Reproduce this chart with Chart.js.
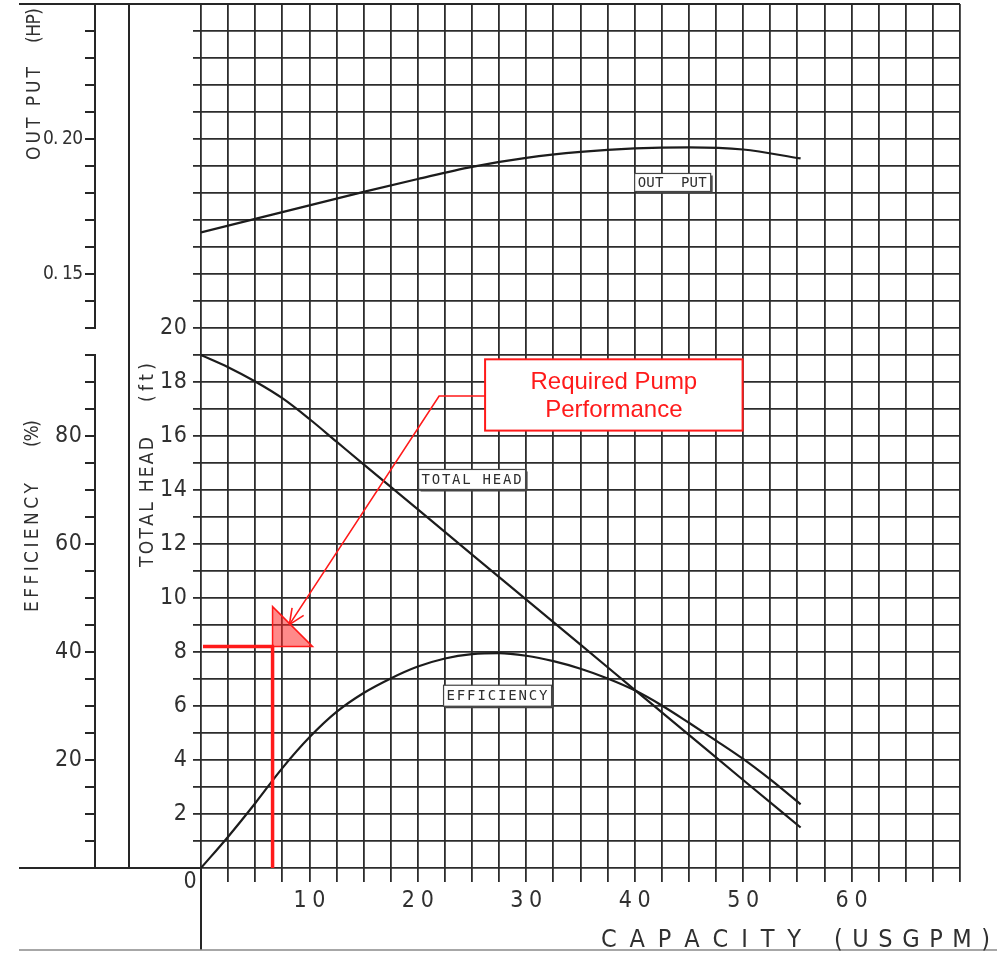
<!DOCTYPE html>
<html lang="en">
<head>
<meta charset="utf-8">
<title>Pump performance curve</title>
<script src="https://cdn.jsdelivr.net/npm/chart.js@4.4.1/dist/chart.umd.min.js"></script>
<style>
  html, body { margin: 0; padding: 0; background: #fff; }
  canvas { display: block; }
</style>
</head>
<body>
<canvas id="pumpChart" width="997" height="962"></canvas>
<script>
// ---- Performance data (capacity in US gallons per minute) ----
const headCapacity = [0, 2.5, 5, 7.5, 10, 12.5, 15, 20, 25, 30, 35, 40, 45, 50, 55.3];
const totalHeadFt  = [19.0, 18.55, 18.02, 17.4, 16.63, 15.79, 14.95, 13.28, 11.61, 9.94, 8.27, 6.6, 4.93, 3.26, 1.5];

const effCapacity   = [0, 2.5, 5, 7.5, 10, 12.5, 15, 17.5, 20, 22.5, 25, 27.5, 30, 32.5, 35, 37.5, 40, 42.5, 45, 47.5, 50, 52.5, 55.3];
const efficiencyPct = [0, 5.8, 12.0, 18.5, 24.2, 28.9, 32.4, 35.1, 37.3, 38.8, 39.6, 39.8, 39.3, 38.3, 36.9, 35.1, 32.9, 30.1, 26.9, 23.6, 20.2, 16.4, 11.8];

const outputCapacity = [0, 5, 10, 15, 20, 25, 30, 35, 40, 45, 50, 55.3];
const outputHp       = [0.1654, 0.1704, 0.1754, 0.1804, 0.1852, 0.1897, 0.1930, 0.1952, 0.1965, 0.1969, 0.1961, 0.1928];

// ---- Axis tick labels ----
const capacityTicks   = [10, 20, 30, 40, 50, 60];
const headTicks       = [2, 4, 6, 8, 10, 12, 14, 16, 18, 20];
const efficiencyTicks = [20, 40, 60, 80];
const outputTicks     = [0.15, 0.20];
const outputTickText  = ['0. 15', '0. 20'];

// Operating point required of the pump
const requiredCapacity = [6.6];
const requiredHead     = [8.2];

// ---- Scale extents ----
const CAP_MAX = 70, CAP_GRID = 2.5;
const HEAD_MAX = 32;                 // grid continues above the labelled head range
const EFF_AXIS = [0, 95], EFF_STEP = 5;
const HP_AXIS = [0.13, 0.25], HP_STEP = 0.01;

const INK = '#262626';
const RED = '#ff1a1a';
const NUM_FONT = '"Liberation Sans Narrow", "DejaVu Sans Condensed", "Liberation Sans", sans-serif';
const TAG_FONT = '"DejaVu Sans Mono", "Liberation Mono", monospace';

function stepValues(from, to, step) {
  const out = [];
  for (let i = 0; from + i * step <= to + 1e-9; i++) out.push(+(from + i * step).toFixed(4));
  return out;
}

// draw text so that it spans exactly `len` pixels, anchored left / right / center
function spanText(ctx, text, x, y, len, align) {
  const chars = [...text];
  const w = chars.map(ch => ctx.measureText(ch).width);
  const sum = w.reduce((a, b) => a + b, 0);
  const spacing = chars.length > 1 ? (len - sum) / (chars.length - 1) : 0;
  const total = chars.length > 1 ? len : sum;
  let px = align === 'right' ? x - total : align === 'center' ? x - total / 2 : x;
  ctx.textAlign = 'left';
  chars.forEach((ch, i) => { ctx.fillText(ch, px, y); px += w[i] + spacing; });
}

function line(ctx, x1, y1, x2, y2) {
  ctx.beginPath(); ctx.moveTo(x1, y1); ctx.lineTo(x2, y2); ctx.stroke();
}

// Frame, auxiliary axes, labels and the duty-point annotation
const pumpDecor = {
  id: 'pumpDecor',
  afterDatasetsDraw(chart) {
    const { ctx, chartArea: a } = chart;
    const { x, y, eff, hp } = chart.scales;
    const frameLeft = 19, auxAxisX = 95, innerRuleX = 129, bottomRuleY = 950;

    ctx.save();
    ctx.strokeStyle = INK;
    ctx.lineWidth = 2;
    ctx.lineCap = 'butt';

    // outer rules
    line(ctx, frameLeft, a.top, a.right, a.top);
    line(ctx, frameLeft, y.getPixelForValue(0), a.left, y.getPixelForValue(0));
    line(ctx, x.getPixelForValue(0), a.bottom, x.getPixelForValue(0), bottomRuleY);
    line(ctx, innerRuleX, a.top, innerRuleX, a.bottom);
    ctx.save();
    ctx.strokeStyle = '#8a8a8a'; ctx.lineWidth = 1.5;
    line(ctx, frameLeft, bottomRuleY, chart.width, bottomRuleY);
    ctx.restore();

    // output (HP) axis
    const hpTop = hp.getPixelForValue(HP_AXIS[1]), hpBot = hp.getPixelForValue(HP_AXIS[0]);
    line(ctx, auxAxisX, hpTop, auxAxisX, hpBot + 1);
    stepValues(HP_AXIS[0], HP_AXIS[1] - HP_STEP, HP_STEP).forEach(v => {
      const py = hp.getPixelForValue(v);
      line(ctx, auxAxisX - 10, py, auxAxisX + 1, py);
    });

    // efficiency axis
    const effTop = eff.getPixelForValue(EFF_AXIS[1]), effBot = eff.getPixelForValue(EFF_AXIS[0]);
    line(ctx, auxAxisX, effTop - 1, auxAxisX, effBot);
    stepValues(EFF_AXIS[0] + EFF_STEP, EFF_AXIS[1], EFF_STEP).forEach(v => {
      const py = eff.getPixelForValue(v);
      line(ctx, auxAxisX - 10, py, auxAxisX + 1, py);
    });

    // numeric tick labels
    ctx.fillStyle = '#303030';
    ctx.textBaseline = 'middle';
    ctx.font = '23px ' + NUM_FONT;
    efficiencyTicks.forEach(v => spanText(ctx, String(v), 82, eff.getPixelForValue(v), 27, 'right'));
    headTicks.forEach(v => spanText(ctx, String(v), 187, y.getPixelForValue(v), 27, 'right'));
    capacityTicks.forEach(v => spanText(ctx, String(v), x.getPixelForValue(v), 901, 32, 'center'));
    spanText(ctx, '0', x.getPixelForValue(0) - 11, y.getPixelForValue(0) + 14, 0, 'center');
    ctx.font = '19px ' + NUM_FONT;
    outputTicks.forEach((v, i) => spanText(ctx, outputTickText[i], 83, hp.getPixelForValue(v), 40, 'right'));

    // axis titles
    ctx.font = '19px ' + NUM_FONT;
    const vertical = (text, cx, yStart, yEnd) => {
      ctx.save();
      ctx.translate(cx, yStart);
      ctx.rotate(-Math.PI / 2);
      spanText(ctx, text, 0, 0, yStart - yEnd, 'left');
      ctx.restore();
    };
    vertical('OUT PUT', 35, 160, 67);
    vertical('(HP)', 35, 43, 8);
    vertical('EFFICIENCY', 33, 612, 483);
    vertical('(%)', 33, 447, 420);
    vertical('TOTAL HEAD', 148, 567, 437);
    vertical('(ft)', 148, 402, 363);
    ctx.font = '25px ' + NUM_FONT;
    spanText(ctx, 'CAPACITY', 601, 940, 200, 'left');
    spanText(ctx, '(USGPM)', 834, 940, 156, 'left');

    // curve name tags
    const tags = [
      { text: 'OUT  PUT',   px: x.getPixelForValue(43.5),  py: hp.getPixelForValue(0.1839), w: 76,  h: 18 },
      { text: 'TOTAL HEAD', px: x.getPixelForValue(25.0),  py: y.getPixelForValue(14.39),   w: 107, h: 20 },
      { text: 'EFFICIENCY', px: x.getPixelForValue(27.35), py: eff.getPixelForValue(31.9),  w: 108, h: 21 }
    ];
    ctx.font = '14px ' + TAG_FONT;
    tags.forEach(t => {
      const l = t.px - t.w / 2, tp = t.py - t.h / 2;
      ctx.fillStyle = '#fff';
      ctx.fillRect(l, tp, t.w, t.h);
      ctx.strokeStyle = '#444'; ctx.lineWidth = 1.2;
      ctx.strokeRect(l, tp, t.w, t.h);
      ctx.lineWidth = 1.6;
      line(ctx, l + 2, tp + t.h + 1.2, l + t.w + 1.2, tp + t.h + 1.2);
      line(ctx, l + t.w + 1.2, tp + 2, l + t.w + 1.2, tp + t.h + 1.2);
      ctx.fillStyle = '#2e2e2e';
      spanText(ctx, t.text, l + 3, t.py + 1, t.w - 7, 'left');
    });

    // required duty point
    const qx = x.getPixelForValue(requiredCapacity[0]);
    const hy = y.getPixelForValue(requiredHead[0]);
    ctx.strokeStyle = RED; ctx.lineWidth = 3.5;
    line(ctx, x.getPixelForValue(0) + 2, hy, qx + 1.5, hy);
    line(ctx, qx, hy, qx, y.getPixelForValue(0));

    // marker triangle
    const tri = 40;
    ctx.beginPath();
    ctx.moveTo(qx, hy); ctx.lineTo(qx, hy - tri); ctx.lineTo(qx + tri, hy); ctx.closePath();
    ctx.fillStyle = 'rgba(255, 40, 40, 0.55)'; ctx.fill();
    ctx.lineWidth = 1.5; ctx.stroke();

    // callout box and leader
    const boxL = x.getPixelForValue(26.2), boxR = x.getPixelForValue(49.95);
    const boxT = y.getPixelForValue(18.84), boxB = y.getPixelForValue(16.2);
    const elbowX = x.getPixelForValue(21.96), elbowY = y.getPixelForValue(17.48);
    const tipX = qx + tri * 0.42, tipY = hy - tri * 0.55;
    ctx.lineWidth = 1.6;
    ctx.beginPath();
    ctx.moveTo(boxL, elbowY); ctx.lineTo(elbowX, elbowY); ctx.lineTo(tipX, tipY);
    ctx.stroke();
    const ang = Math.atan2(elbowY - tipY, elbowX - tipX);
    [0.42, -0.42].forEach(d => {
      line(ctx, tipX, tipY, tipX + 17 * Math.cos(ang + d), tipY + 17 * Math.sin(ang + d));
    });
    ctx.fillStyle = '#fff';
    ctx.fillRect(boxL, boxT, boxR - boxL, boxB - boxT);
    ctx.lineWidth = 2;
    ctx.strokeRect(boxL, boxT, boxR - boxL, boxB - boxT);
    ctx.fillStyle = RED;
    ctx.font = '24px "Liberation Sans", Arial, sans-serif';
    ctx.textAlign = 'center'; ctx.textBaseline = 'alphabetic';
    const cx = (boxL + boxR) / 2;
    ctx.fillText('Required Pump', cx, boxT + 30);
    ctx.fillText('Performance', cx, boxT + 58);

    ctx.restore();
  }
};

const gridColor = '#2c2c2c';
const gridWidth = 1.8;

new Chart(document.getElementById('pumpChart'), {
  type: 'line',
  data: {
    datasets: [
      {
        label: 'TOTAL HEAD',
        data: headCapacity.map((q, i) => ({ x: q, y: totalHeadFt[i] })),
        yAxisID: 'y'
      },
      {
        label: 'EFFICIENCY',
        data: effCapacity.map((q, i) => ({ x: q, y: efficiencyPct[i] })),
        yAxisID: 'eff'
      },
      {
        label: 'OUT PUT',
        data: outputCapacity.map((q, i) => ({ x: q, y: outputHp[i] })),
        yAxisID: 'hp'
      }
    ]
  },
  options: {
    responsive: false,
    animation: false,
    devicePixelRatio: 1,
    layout: { padding: { left: 193, right: 37, top: 4, bottom: 80 } },
    plugins: { legend: { display: false }, tooltip: { enabled: false } },
    elements: {
      point: { radius: 0 },
      line: { borderWidth: 2.2, borderColor: '#1c1c1c', cubicInterpolationMode: 'monotone', fill: false }
    },
    datasets: { line: { borderColor: '#1c1c1c', borderWidth: 2.2 } },
    scales: {
      x: {
        type: 'linear', position: 'bottom', min: 0, max: CAP_MAX,
        afterBuildTicks: s => { s.ticks = stepValues(0, CAP_MAX, CAP_GRID).map(v => ({ value: v })); },
        ticks: { display: false },
        grid: { color: gridColor, lineWidth: gridWidth, drawTicks: true, tickLength: 14, tickColor: gridColor },
        border: { display: false }
      },
      y: {
        type: 'linear', position: 'left', min: 0, max: HEAD_MAX,
        afterBuildTicks: s => { s.ticks = stepValues(0, HEAD_MAX, 1).map(v => ({ value: v })); },
        ticks: { display: false },
        grid: { color: gridColor, lineWidth: gridWidth, drawTicks: true, tickLength: 8, tickColor: gridColor },
        border: { display: false }
      },
      eff: { axis: 'y', type: 'linear', position: 'left', display: false, min: 0, max: HEAD_MAX * 5 },
      hp:  { axis: 'y', type: 'linear', position: 'left', display: false, min: 0.13 - 0.20, max: 0.25 }
    }
  },
  plugins: [pumpDecor]
});
</script>
</body>
</html>
